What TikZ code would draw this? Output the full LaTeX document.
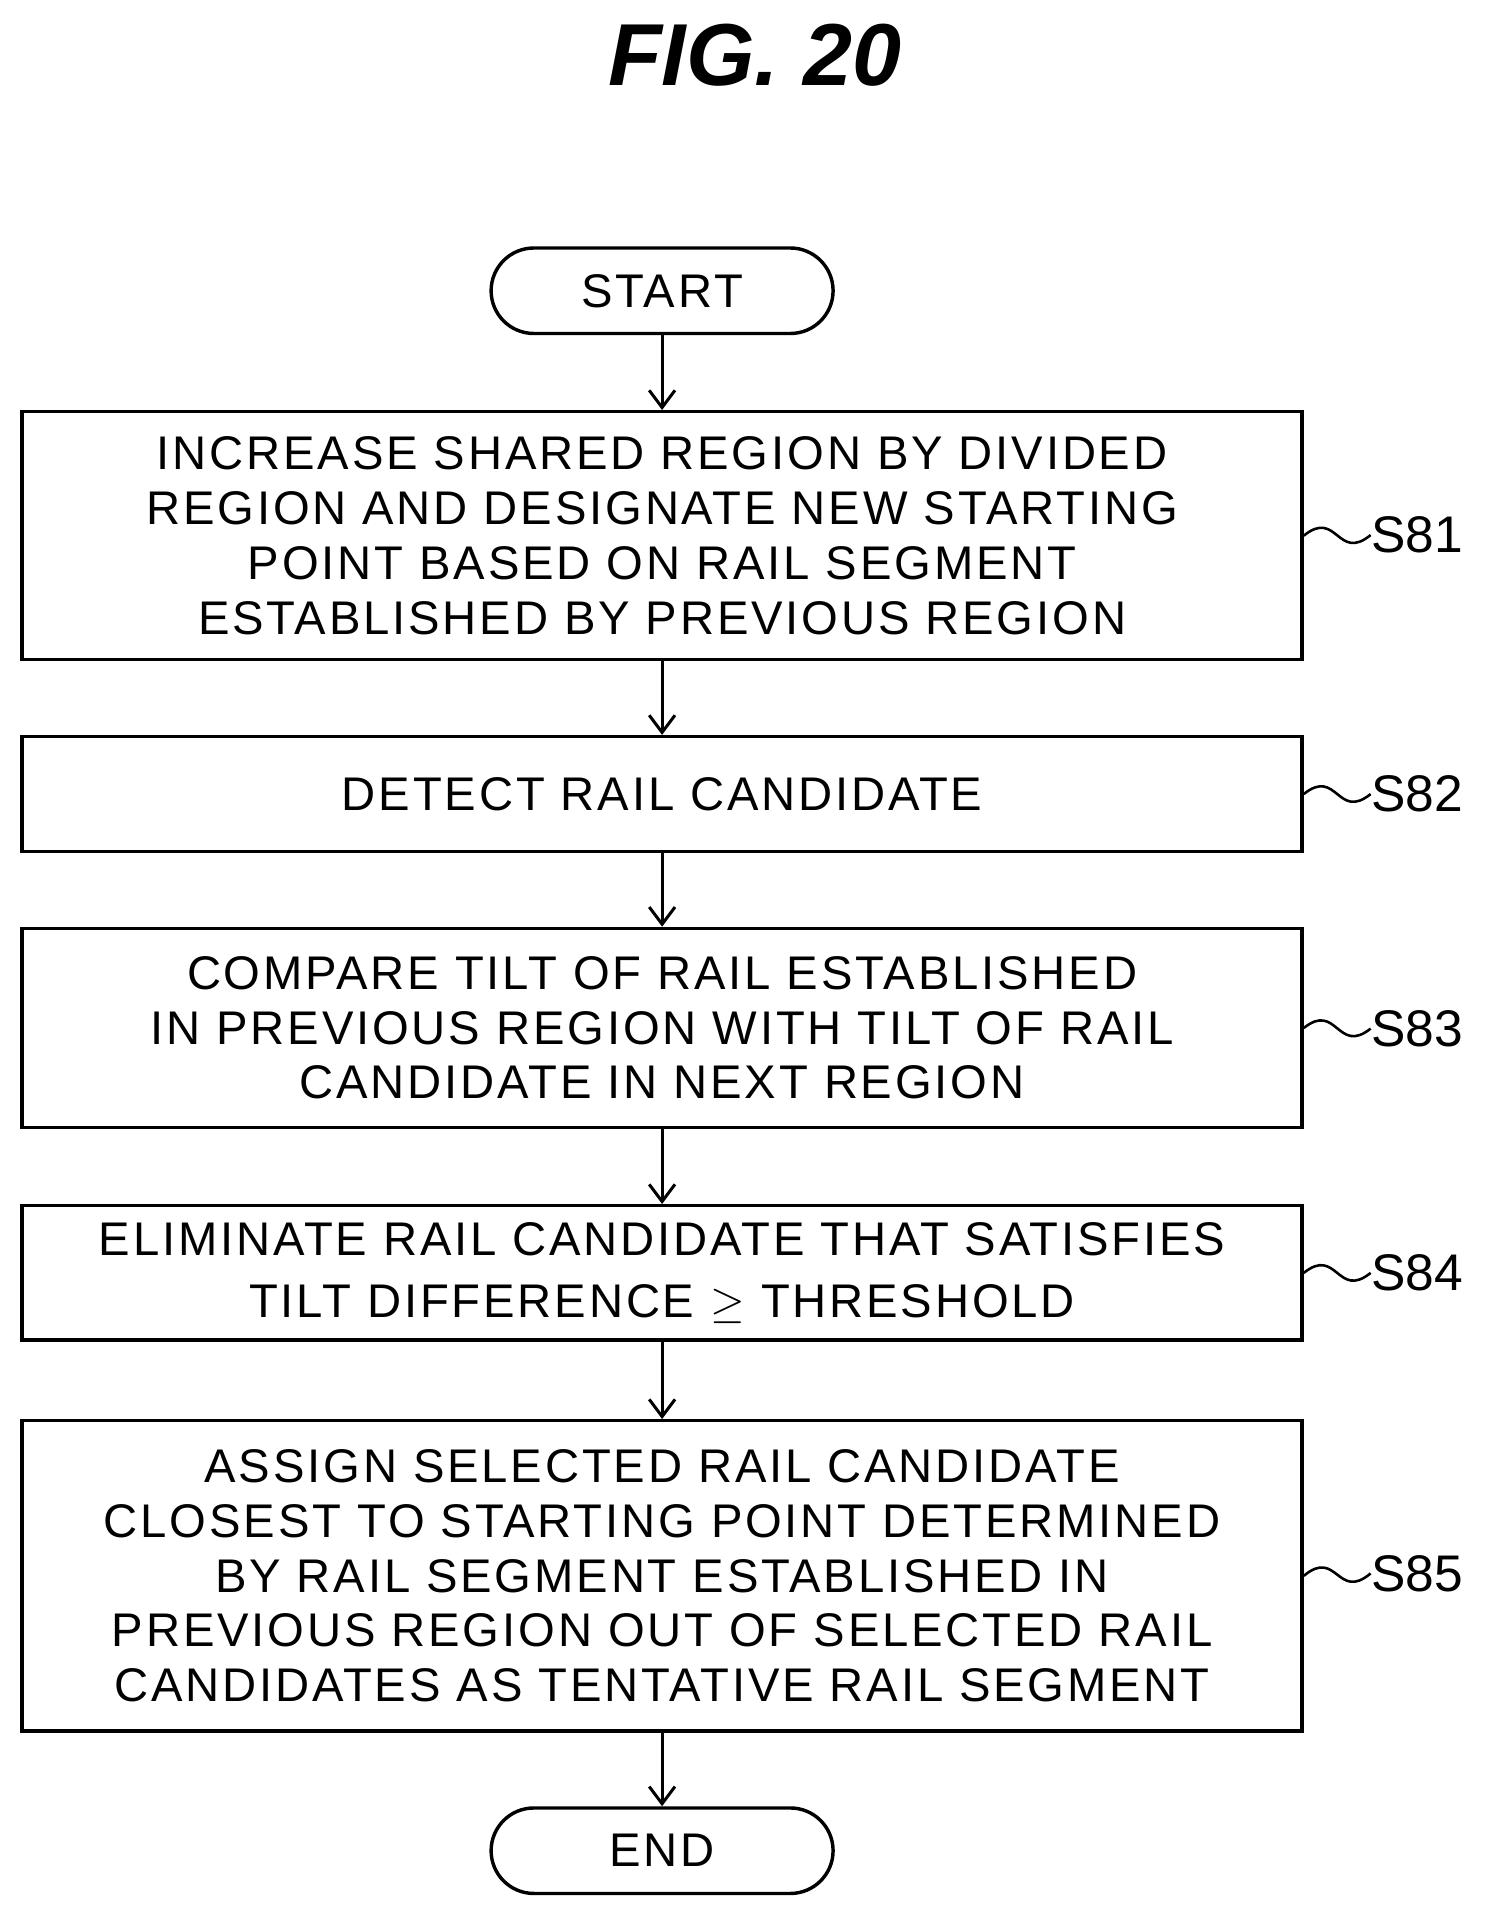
\documentclass[tikz,border=0pt]{standalone}
\usepackage{fontspec}
\setmainfont{Liberation Sans}
\newfontfamily\spaced[LetterSpace=6]{Liberation Sans}
\usetikzlibrary{arrows.meta,positioning,calc}
\tikzset{
 stepbox/.style={draw,line width=1.6pt,minimum width=20.96cm,align=center,
  font=\spaced\fontsize{22}{25.5}\selectfont,inner sep=0pt},
 term/.style={draw,line width=1.6pt,rounded corners=0.7cm,minimum width=5.6cm,
  minimum height=1.4cm,font=\spaced\fontsize{22}{25}\selectfont},
 flow/.style={line width=1.4pt,-{Straight Barb[length=8pt,width=12pt,line width=1.4pt]}},
 tag/.style={font=\fontsize{24}{26}\selectfont,anchor=west,inner sep=0pt},
 wave/.style={line width=1.2pt}
}
\begin{document}
\begin{tikzpicture}[x=0.02cm,y=-0.02cm]
 \useasboundingbox (0,0) rectangle (1220,1566);
 % title
 \node (title) at (618,45) {\fontsize{41}{41}\selectfont\bfseries\itshape FIG. 20};
 % terminals
 \node[term] (start) at (542,238) {START};
 \node[term] (end) at (542,1515) {END};
 % steps
 \node[stepbox,minimum height=4.06cm] (b81) at (542,438.5)
  {INCREASE SHARED REGION BY DIVIDED\\REGION AND DESIGNATE NEW STARTING\\POINT BASED ON RAIL SEGMENT\\ESTABLISHED BY PREVIOUS REGION};
 \node[stepbox,minimum height=1.88cm] (b82) at (542,650)
  {DETECT RAIL CANDIDATE};
 \node[stepbox,minimum height=3.26cm] (b83) at (542,841.5)
  {COMPARE TILT OF RAIL ESTABLISHED\\IN PREVIOUS REGION WITH TILT OF RAIL\\CANDIDATE IN NEXT REGION};
 \node[stepbox,minimum height=2.2cm,font=\spaced\fontsize{22}{29}\selectfont] (b84) at (542,1042)
  {ELIMINATE RAIL CANDIDATE THAT SATISFIES\\TILT DIFFERENCE $\geq$ THRESHOLD};
 \node[stepbox,minimum height=5.08cm] (b85) at (542,1290)
  {ASSIGN SELECTED RAIL CANDIDATE\\CLOSEST TO STARTING POINT DETERMINED\\BY RAIL SEGMENT ESTABLISHED IN\\PREVIOUS REGION OUT OF SELECTED RAIL\\CANDIDATES AS TENTATIVE RAIL SEGMENT};
 % step labels
 \foreach \s/\y in {81/438,82/650,83/842,84/1042,85/1288} {
  \node[tag] (l\s) at (1122,\y) {S\s};
  \draw[wave] (b\s.east) .. controls ($(b\s.east)!0.5!(l\s.west)+(0,-22)$)
   and ($(b\s.east)!0.5!(l\s.west)+(0,22)$) .. (l\s.west);
 }
 % connectors
 \draw[flow] (start) -- (b81);
 \draw[flow] (b81) -- (b82);
 \draw[flow] (b82) -- (b83);
 \draw[flow] (b83) -- (b84);
 \draw[flow] (b84) -- (b85);
 \draw[flow] (b85) -- (end);
\end{tikzpicture}
\end{document}
